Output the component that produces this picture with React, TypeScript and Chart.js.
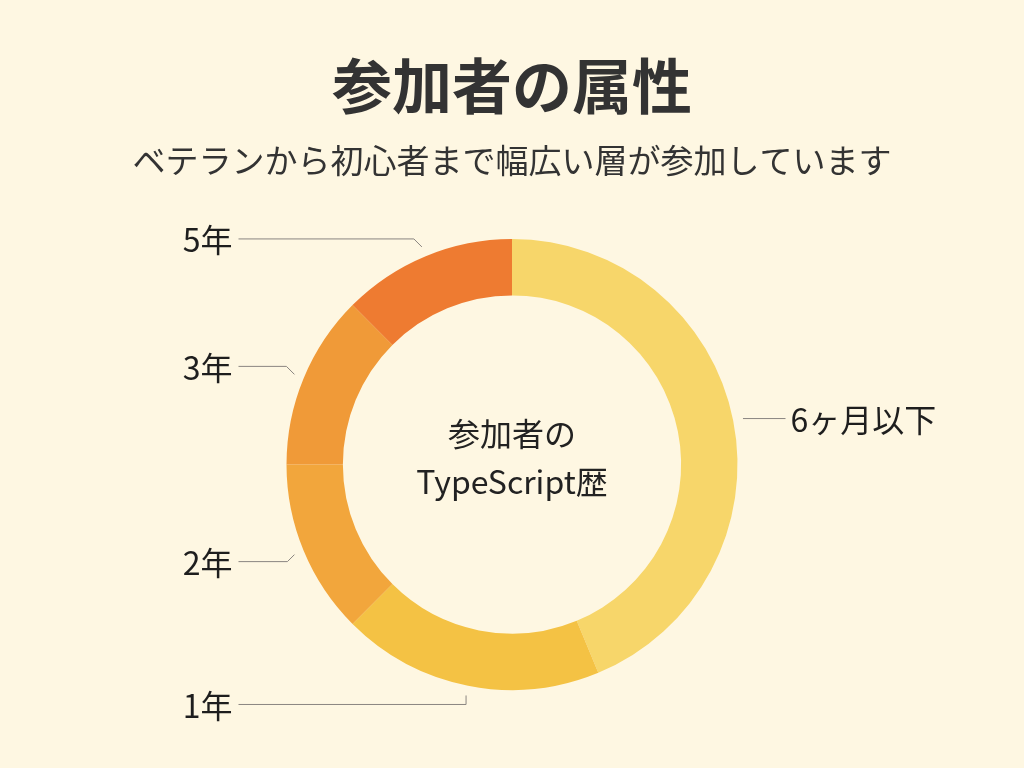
import { useEffect, useRef } from "react";
import { Chart, registerables } from "chart.js";

Chart.register(...registerables);

const categories = ["6ヶ月以下", "1年", "2年", "3年", "5年"];
const counts = [7, 3, 2, 2, 2];
const segmentColors = ["#F7D66A", "#F4C244", "#F2A63C", "#F09A38", "#EE7B31"];
const titleText = "参加者の属性";
const subtitleText = "ベテランから初心者まで幅広い層が参加しています";
const centerLines = ["参加者の", "TypeScript歴"];
// leader line bend: vertical shift of the label row relative to the anchor, and bend kind
const leaderShiftY = [0, 9, 7, -8, -8];
const leaderKind = ["straight", "vertical", "diagonal", "diagonal", "diagonal"];

const FONT = '"Noto Sans CJK JP", "Noto Sans", sans-serif';
const BG = "#FEF7E2";

const decorPlugin = {
  id: "decor",
  beforeDraw(chart: any) {
    const { ctx, width, height } = chart;
    ctx.save();
    ctx.fillStyle = BG;
    ctx.fillRect(0, 0, width, height);
    ctx.fillStyle = "#333333";
    ctx.textAlign = "center";
    ctx.textBaseline = "middle";
    ctx.font = `bold 60px ${FONT}`;
    ctx.fillText(titleText, width / 2, 86);
    ctx.font = `33px ${FONT}`;
    ctx.fillText(subtitleText, width / 2, 160);
    ctx.restore();
  },
  afterDatasetsDraw(chart: any) {
    const { ctx } = chart;
    const meta = chart.getDatasetMeta(0);
    ctx.save();
    const a0 = meta.data[0];
    const cx = a0.x;
    const cy = a0.y;
    ctx.fillStyle = "#222222";
    ctx.textAlign = "center";
    ctx.textBaseline = "middle";
    ctx.font = `32px ${FONT}`;
    ctx.fillText(centerLines[0], cx, cy - 31);
    ctx.fillText(centerLines[1], cx, cy + 17);

    meta.data.forEach((arc: any, i: number) => {
      const { x, y, startAngle, endAngle, outerRadius } = arc.getProps(
        ["x", "y", "startAngle", "endAngle", "outerRadius"],
        true
      );
      const mid = (startAngle + endAngle) / 2;
      const r = outerRadius + 10;
      const ax = x + Math.cos(mid) * r;
      const ay = y + Math.sin(mid) * r;
      const right = Math.cos(mid) >= 0;
      const endX = right ? x + outerRadius + 48 : x - outerRadius - 48;
      const ly = ay + leaderShiftY[i];
      ctx.strokeStyle = "#8a8580";
      ctx.lineWidth = 1;
      ctx.beginPath();
      ctx.moveTo(ax, ay);
      if (leaderKind[i] === "vertical") {
        ctx.lineTo(ax, ly);
      } else if (leaderKind[i] === "diagonal") {
        const dx = Math.abs(leaderShiftY[i]);
        ctx.lineTo(right ? ax + dx : ax - dx, ly);
      }
      ctx.lineTo(endX, ly);
      ctx.stroke();
      ctx.fillStyle = "#1e1e1e";
      ctx.font = `32px ${FONT}`;
      ctx.textBaseline = "middle";
      ctx.textAlign = right ? "left" : "right";
      ctx.fillText(categories[i], right ? endX + 5 : endX - 6, ly + 1);
    });
    ctx.restore();
  },
};

export default function App() {
  const ref = useRef<HTMLCanvasElement | null>(null);
  useEffect(() => {
    document.body.style.margin = "0";
    document.body.style.background = BG;
    const chart = new Chart(ref.current as HTMLCanvasElement, {
      type: "doughnut",
      data: {
        labels: categories,
        datasets: [
          {
            data: counts,
            backgroundColor: segmentColors,
            borderWidth: 0,
            hoverOffset: 0,
          },
        ],
      },
      options: {
        animation: false,
        responsive: false,
        cutout: "75%",
        layout: { padding: { top: 239, bottom: 78, left: 0, right: 0 } },
        plugins: {
          legend: { display: false },
          tooltip: { enabled: false },
        },
      },
      plugins: [decorPlugin],
    });
    return () => chart.destroy();
  }, []);
  return (
    <div style={{ position: "fixed", left: 0, top: 0, width: 1024, height: 768, background: BG }}>
      <canvas ref={ref} width={1024} height={768} style={{ width: 1024, height: 768 }} />
    </div>
  );
}
